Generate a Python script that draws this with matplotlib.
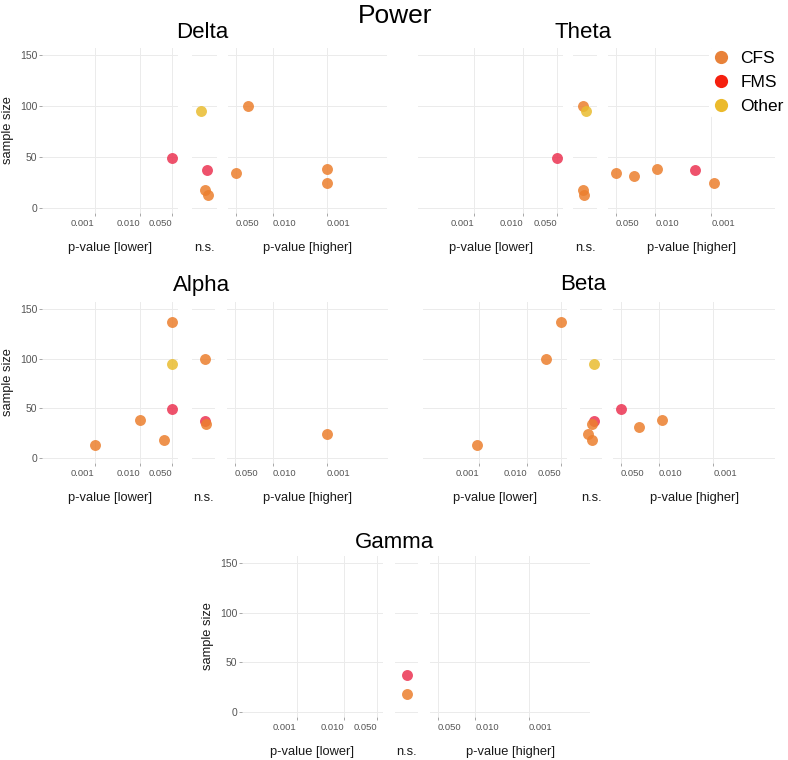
import numpy as np
import matplotlib
matplotlib.use('Agg')
import matplotlib.pyplot as plt
from matplotlib.lines import Line2D

plt.rcParams['font.family'] = ['Liberation Sans', 'DejaVu Sans']

W, H = 788, 760

# ---- data: section, p-value, sample size, group (one set of lists per band)
# n.s. points have no p-value, they are just jittered inside the n.s. strip
delta_sec = ['lower', 'ns', 'ns', 'ns', 'ns', 'higher', 'higher', 'higher', 'higher']
delta_p = [0.05, None, None, None, None, 0.029, 0.05, 0.001, 0.001]
delta_n = [49, 95, 37, 18, 13, 100, 34, 38, 24]
delta_grp = ['FMS', 'Other', 'FMS', 'CFS', 'CFS', 'CFS', 'CFS', 'CFS', 'CFS']

theta_sec = ['lower', 'ns', 'ns', 'ns', 'ns', 'higher', 'higher', 'higher', 'higher', 'higher']
theta_p = [0.05, None, None, None, None, 0.05, 0.024, 0.0093, 0.002, 0.0009]
theta_n = [49, 100, 95, 18, 13, 34, 31, 38, 37, 24]
theta_grp = ['FMS', 'CFS', 'Other', 'CFS', 'CFS', 'CFS', 'CFS', 'CFS', 'FMS', 'CFS']

alpha_sec = ['lower', 'lower', 'lower', 'lower', 'lower', 'lower', 'ns', 'ns', 'ns', 'higher']
alpha_p = [0.001, 0.0096, 0.033, 0.05, 0.05, 0.05, None, None, None, 0.001]
alpha_n = [13, 38, 18, 137, 95, 49, 100, 37, 34, 24]
alpha_grp = ['CFS', 'CFS', 'CFS', 'CFS', 'Other', 'FMS', 'CFS', 'FMS', 'CFS', 'CFS']

beta_sec = ['lower', 'lower', 'lower', 'ns', 'ns', 'ns', 'ns', 'ns', 'higher', 'higher', 'higher']
beta_p = [0.0009, 0.024, 0.05, None, None, None, None, None, 0.05, 0.023, 0.0089]
beta_n = [13, 100, 137, 95, 37, 34, 24, 18, 49, 31, 38]
beta_grp = ['CFS', 'CFS', 'CFS', 'Other', 'FMS', 'CFS', 'CFS', 'CFS', 'FMS', 'CFS', 'CFS']

gamma_sec = ['ns', 'ns']
gamma_p = [None, None]
gamma_n = [37, 18]
gamma_grp = ['FMS', 'CFS']

# jitter offsets of the n.s. points (in order of appearance)
delta_jit = [-0.18, 0.11, 0.02, 0.15]
theta_jit = [-0.08, 0.03, -0.10, -0.05]
alpha_jit = [0.07, 0.07, 0.15]
beta_jit = [0.14, 0.19, 0.05, -0.14, 0.05]
gamma_jit = [0.04, 0.04]

bands = {
    'Delta': (delta_sec, delta_p, delta_n, delta_grp, delta_jit),
    'Theta': (theta_sec, theta_p, theta_n, theta_grp, theta_jit),
    'Alpha': (alpha_sec, alpha_p, alpha_n, alpha_grp, alpha_jit),
    'Beta': (beta_sec, beta_p, beta_n, beta_grp, beta_jit),
    'Gamma': (gamma_sec, gamma_p, gamma_n, gamma_grp, gamma_jit),
}

groups = ['CFS', 'FMS', 'Other']
point_col = {'CFS': '#EC7F2E', 'FMS': '#EC3452', 'Other': '#E9BC30'}
legend_col = {'CFS': '#E8823A', 'FMS': '#F5200F', 'Other': '#EBBA2C'}

ticks_p = [0.001, 0.010, 0.050]
tick_lab = ['0.001', '0.010', '0.050']

# layout in pixels: lower(l,r), ns(l,r), higher(l,r), top, bottom, title x, title y, y labels?
layout = {
    'Delta': ((42, 178), (192, 217), (228, 387), 47.5, 212.5, 202, 32, True),
    'Theta': ((418, 563), (573, 597), (608, 775), 47.5, 212.5, 583, 32, False),
    'Alpha': ((42, 178), (192, 215), (227, 388), 301.5, 462.5, 202, 285, True),
    'Beta': ((423, 567), (580, 602), (613, 775), 301.5, 462.5, 583, 285, False),
    'Gamma': ((242, 383), (395, 418), (430, 590), 555.5, 716.5, 395, 543, True),
}

fig = plt.figure(figsize=(W / 100, H / 100), dpi=100)


def px_axes(l, r, t, b):
    return fig.add_axes([l / W, 1 - b / H, (r - l) / W, (b - t) / H])


def style(ax):
    for s in ax.spines.values():
        s.set_visible(False)
    ax.set_ylim(-4.5, 157.5)
    ax.set_yticks([0, 50, 100, 150])
    ax.grid(True, color='#EBEBEB', linewidth=0.7)
    ax.set_axisbelow(True)
    ax.tick_params(axis='both', length=2.5, width=0.6, color='#999999',
                   labelcolor='#555555')
    ax.tick_params(axis='x', labelsize=6.8, pad=2.5)
    ax.tick_params(axis='y', labelsize=7.5, pad=1)


for band, (sec, pv, nn, grp, jit) in bands.items():
    lo, ns, hi, top, bot, tx, ty, ylabs = layout[band]
    ax_lo = px_axes(lo[0], lo[1], top, bot)
    ax_ns = px_axes(ns[0], ns[1], top, bot)
    ax_hi = px_axes(hi[0], hi[1], top, bot)
    for ax in (ax_lo, ax_ns, ax_hi):
        style(ax)

    ax_lo.set_xscale('log')
    ax_lo.set_xlim(10 ** -4.15, 10 ** -1.18)
    ax_hi.set_xscale('log')
    ax_hi.set_xlim(10 ** -1.16, 10 ** -4.13)
    for ax, ha in ((ax_lo, 'right'), (ax_hi, 'left')):
        ax.set_xticks(ticks_p)
        ax.set_xticklabels(tick_lab, ha=ha)
        ax.xaxis.set_minor_locator(matplotlib.ticker.NullLocator())
        ax.yaxis.set_ticks_position('none')
    ax_ns.set_xlim(0.4, 1.6)
    ax_ns.set_xticks([])
    ax_ns.grid(False, axis='x')
    ax_ns.tick_params(axis='y', length=0)
    ax_ns.set_yticklabels([])
    ax_hi.set_yticklabels([])
    if ylabs:
        ax_lo.yaxis.set_ticks_position('left')
        ax_lo.tick_params(axis='y', length=2.5)
    else:
        ax_lo.set_yticklabels([])

    k = 0
    for s, p, n, g in zip(sec, pv, nn, grp):
        if s == 'ns':
            ax_ns.scatter(1 + jit[k], n, s=62, color=point_col[g], alpha=0.85,
                          linewidths=0, zorder=3)
            k += 1
        elif s == 'lower':
            ax_lo.scatter(p, n, s=62, color=point_col[g], alpha=0.85,
                          linewidths=0, zorder=3)
        else:
            ax_hi.scatter(p, n, s=62, color=point_col[g], alpha=0.85,
                          linewidths=0, zorder=3)

    # titles and axis labels
    fig.text(tx / W, 1 - ty / H, band, ha='center', va='center', fontsize=16)
    ly = 1 - (bot + 35.5) / H
    fig.text((lo[0] + lo[1]) / 2 / W, ly, 'p-value [lower]', ha='center', va='center',
             fontsize=9.3, color='#1A1A1A')
    fig.text((ns[0] + ns[1]) / 2 / W, ly, 'n.s.', ha='center', va='center',
             fontsize=9.3, color='#1A1A1A')
    fig.text((hi[0] + hi[1]) / 2 / W, ly, 'p-value [higher]', ha='center', va='center',
             fontsize=9.3, color='#1A1A1A')
    if ylabs:
        fig.text((lo[0] - 34) / W, 1 - (top + bot) / 2 / H, 'sample size', rotation=90,
                 ha='center', va='center', fontsize=9.3, color='#1A1A1A')

fig.text(395 / W, 1 - 16 / H, 'Power', ha='center', va='center', fontsize=19)

handles = [Line2D([], [], marker='o', linestyle='none', markersize=9.5,
                  markerfacecolor=legend_col[g], markeredgewidth=0) for g in groups]
leg = fig.legend(handles, groups, loc='upper left', bbox_to_anchor=(709 / W, 1 - 48 / H),
                 frameon=True, fontsize=12.5, handletextpad=0.55, labelspacing=0.52,
                 borderpad=0.15, borderaxespad=0, handlelength=1.1)
leg.get_frame().set_facecolor('white')
leg.get_frame().set_edgecolor('none')
leg.get_frame().set_alpha(1)

fig.savefig('out.png', dpi=100)
